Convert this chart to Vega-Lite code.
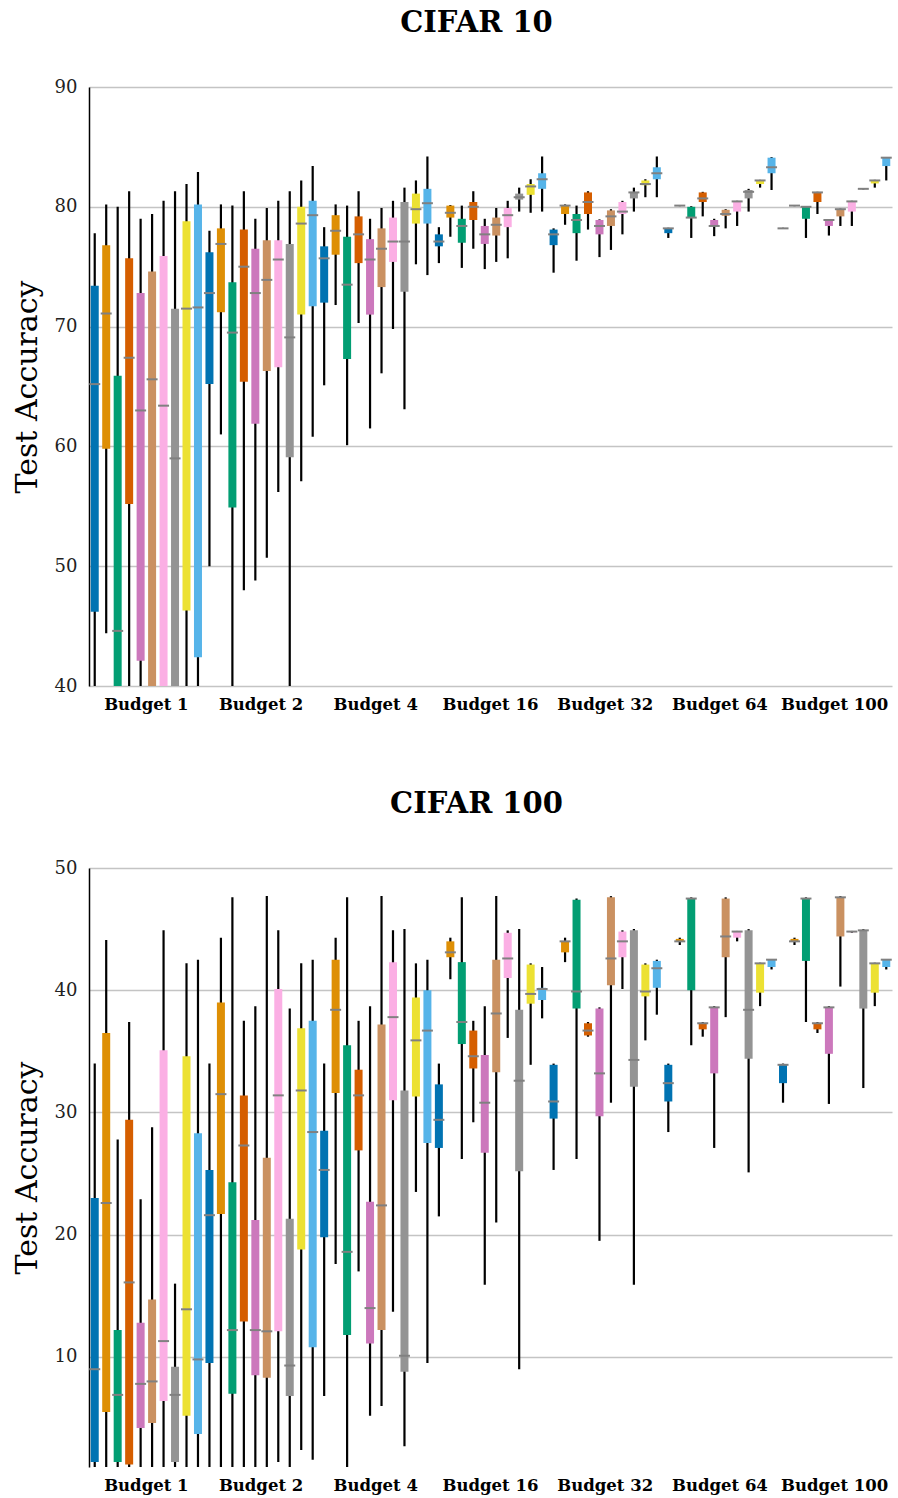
{
  "$schema": "https://vega.github.io/schema/vega-lite/v6.json",
  "padding": {"left": 12, "top": 9, "right": 5, "bottom": 5},
  "spacing": 77,
  "config": {
    "view": {"stroke": null},
    "font": "DejaVu Serif",
    "title": {"font": "DejaVu Serif", "fontSize": 29, "fontWeight": "bold", "color": "#000", "offset": 40, "dx": -14},
    "axisY": {"grid": true, "gridColor": "#c4c4c4", "gridWidth": 1.5, "domainColor": "#000", "domainWidth": 1.5, "ticks": false, "labelPadding": 12, "labelFontSize": 18, "labelFont": "DejaVu Serif", "labelColor": "#222", "titleFont": "DejaVu Serif", "titleFontSize": 30, "titleFontWeight": "normal", "titleColor": "#000", "titlePadding": 12},
    "axisX": {"grid": false, "domain": false, "ticks": false, "labelAngle": 0, "labelFont": "DejaVu Serif", "labelFontWeight": "bold", "labelFontSize": 16.5, "labelColor": "#000", "labelPadding": 10, "title": null}
  },
  "datasets": {
    "c10": [
      {"budget":"Budget 1","method":1,"low":30,"q1":46.2,"median":65.2,"q3":73.4,"high":77.8},
      {"budget":"Budget 1","method":2,"low":44.4,"q1":59.8,"median":71.1,"q3":76.8,"high":80.2},
      {"budget":"Budget 1","method":3,"low":30,"q1":36,"median":44.6,"q3":65.9,"high":80.0},
      {"budget":"Budget 1","method":4,"low":30,"q1":55.2,"median":67.4,"q3":75.7,"high":81.3},
      {"budget":"Budget 1","method":5,"low":30,"q1":42.1,"median":63.0,"q3":72.8,"high":79.0},
      {"budget":"Budget 1","method":6,"low":30,"q1":36,"median":65.6,"q3":74.6,"high":79.4},
      {"budget":"Budget 1","method":7,"low":30,"q1":36,"median":63.4,"q3":75.9,"high":80.5},
      {"budget":"Budget 1","method":8,"low":30,"q1":36,"median":59.0,"q3":71.5,"high":81.3},
      {"budget":"Budget 1","method":9,"low":30,"q1":46.3,"median":71.5,"q3":78.8,"high":81.9},
      {"budget":"Budget 1","method":10,"low":30,"q1":42.4,"median":71.6,"q3":80.2,"high":82.9},
      {"budget":"Budget 2","method":1,"low":50.0,"q1":65.2,"median":72.8,"q3":76.2,"high":78.0},
      {"budget":"Budget 2","method":2,"low":61.0,"q1":71.2,"median":76.9,"q3":78.2,"high":80.2},
      {"budget":"Budget 2","method":3,"low":30,"q1":54.9,"median":69.5,"q3":73.7,"high":80.1},
      {"budget":"Budget 2","method":4,"low":48.0,"q1":65.4,"median":75.0,"q3":78.1,"high":81.3},
      {"budget":"Budget 2","method":5,"low":48.8,"q1":61.9,"median":72.8,"q3":76.5,"high":79.0},
      {"budget":"Budget 2","method":6,"low":50.7,"q1":66.3,"median":73.9,"q3":77.2,"high":79.9},
      {"budget":"Budget 2","method":7,"low":56.2,"q1":66.6,"median":75.6,"q3":77.2,"high":80.5},
      {"budget":"Budget 2","method":8,"low":30,"q1":59.1,"median":69.1,"q3":76.9,"high":81.3},
      {"budget":"Budget 2","method":9,"low":57.1,"q1":71.0,"median":78.6,"q3":80.0,"high":82.2},
      {"budget":"Budget 2","method":10,"low":60.8,"q1":71.7,"median":79.3,"q3":80.5,"high":83.4},
      {"budget":"Budget 4","method":1,"low":65.1,"q1":72.0,"median":75.7,"q3":76.7,"high":78.3},
      {"budget":"Budget 4","method":2,"low":71.8,"q1":76.0,"median":78.0,"q3":79.3,"high":80.2},
      {"budget":"Budget 4","method":3,"low":60.1,"q1":67.3,"median":73.5,"q3":77.5,"high":80.1},
      {"budget":"Budget 4","method":4,"low":70.3,"q1":75.3,"median":77.7,"q3":79.2,"high":81.3},
      {"budget":"Budget 4","method":5,"low":61.5,"q1":71.0,"median":75.6,"q3":77.3,"high":79.0},
      {"budget":"Budget 4","method":6,"low":66.1,"q1":73.3,"median":76.5,"q3":78.2,"high":79.9},
      {"budget":"Budget 4","method":7,"low":69.8,"q1":75.4,"median":77.1,"q3":79.1,"high":80.5},
      {"budget":"Budget 4","method":8,"low":63.1,"q1":72.9,"median":77.1,"q3":80.4,"high":81.6},
      {"budget":"Budget 4","method":9,"low":75.2,"q1":78.6,"median":79.8,"q3":81.1,"high":82.2},
      {"budget":"Budget 4","method":10,"low":74.3,"q1":78.6,"median":80.3,"q3":81.5,"high":84.2},
      {"budget":"Budget 16","method":1,"low":75.3,"q1":76.7,"median":77.1,"q3":77.7,"high":78.3},
      {"budget":"Budget 16","method":2,"low":77.5,"q1":79.1,"median":79.5,"q3":80.1,"high":80.15},
      {"budget":"Budget 16","method":3,"low":74.9,"q1":77.0,"median":78.4,"q3":79.0,"high":80.1},
      {"budget":"Budget 16","method":4,"low":76.5,"q1":78.9,"median":80.0,"q3":80.4,"high":81.3},
      {"budget":"Budget 16","method":5,"low":74.8,"q1":76.9,"median":77.7,"q3":78.4,"high":79.0},
      {"budget":"Budget 16","method":6,"low":75.4,"q1":77.6,"median":78.5,"q3":79.1,"high":79.9},
      {"budget":"Budget 16","method":7,"low":75.7,"q1":78.3,"median":79.3,"q3":79.9,"high":80.5},
      {"budget":"Budget 16","method":8,"low":79.6,"q1":80.6,"median":80.8,"q3":81.1,"high":81.6},
      {"budget":"Budget 16","method":9,"low":79.5,"q1":81.0,"median":81.7,"q3":81.9,"high":82.3},
      {"budget":"Budget 16","method":10,"low":79.6,"q1":81.5,"median":82.3,"q3":82.8,"high":84.2},
      {"budget":"Budget 32","method":1,"low":74.5,"q1":76.8,"median":77.7,"q3":78.1,"high":78.2},
      {"budget":"Budget 32","method":2,"low":78.5,"q1":79.4,"median":80.1,"q3":80.1,"high":80.2},
      {"budget":"Budget 32","method":3,"low":75.5,"q1":77.8,"median":78.9,"q3":79.4,"high":80.1},
      {"budget":"Budget 32","method":4,"low":78.1,"q1":79.4,"median":80.4,"q3":81.2,"high":81.3},
      {"budget":"Budget 32","method":5,"low":75.8,"q1":77.7,"median":78.4,"q3":78.9,"high":78.95},
      {"budget":"Budget 32","method":6,"low":76.4,"q1":78.4,"median":79.2,"q3":79.7,"high":79.8},
      {"budget":"Budget 32","method":7,"low":77.7,"q1":79.4,"median":79.6,"q3":80.4,"high":80.5},
      {"budget":"Budget 32","method":8,"low":79.6,"q1":80.7,"median":81.2,"q3":81.2,"high":81.6},
      {"budget":"Budget 32","method":9,"low":80.8,"q1":81.8,"median":81.9,"q3":82.2,"high":82.3},
      {"budget":"Budget 32","method":10,"low":80.8,"q1":82.3,"median":82.8,"q3":83.3,"high":84.2},
      {"budget":"Budget 64","method":1,"low":77.4,"q1":77.8,"median":78.2,"q3":78.2,"high":78.25},
      {"budget":"Budget 64","method":2,"low":80.05,"q1":80.08,"median":80.1,"q3":80.12,"high":80.15},
      {"budget":"Budget 64","method":3,"low":77.4,"q1":79.1,"median":79.1,"q3":80.0,"high":80.05},
      {"budget":"Budget 64","method":4,"low":79.2,"q1":80.4,"median":80.7,"q3":81.2,"high":81.25},
      {"budget":"Budget 64","method":5,"low":77.55,"q1":78.4,"median":78.4,"q3":78.9,"high":79.0},
      {"budget":"Budget 64","method":6,"low":78.2,"q1":79.25,"median":79.4,"q3":79.75,"high":79.8},
      {"budget":"Budget 64","method":7,"low":78.4,"q1":79.6,"median":80.45,"q3":80.45,"high":80.5},
      {"budget":"Budget 64","method":8,"low":79.6,"q1":80.7,"median":81.25,"q3":81.4,"high":81.5},
      {"budget":"Budget 64","method":9,"low":81.6,"q1":81.9,"median":82.2,"q3":82.2,"high":82.25},
      {"budget":"Budget 64","method":10,"low":81.4,"q1":82.8,"median":83.3,"q3":84.1,"high":84.15},
      {"budget":"Budget 100","method":1,"low":78.15,"q1":78.18,"median":78.2,"q3":78.22,"high":78.25},
      {"budget":"Budget 100","method":2,"low":80.05,"q1":80.08,"median":80.1,"q3":80.12,"high":80.15},
      {"budget":"Budget 100","method":3,"low":77.4,"q1":79.0,"median":80.0,"q3":80.0,"high":80.05},
      {"budget":"Budget 100","method":4,"low":79.4,"q1":80.4,"median":81.2,"q3":81.2,"high":81.25},
      {"budget":"Budget 100","method":5,"low":77.6,"q1":78.4,"median":78.9,"q3":78.9,"high":78.95},
      {"budget":"Budget 100","method":6,"low":78.4,"q1":79.2,"median":79.8,"q3":79.8,"high":79.85},
      {"budget":"Budget 100","method":7,"low":78.4,"q1":79.6,"median":80.45,"q3":80.45,"high":80.5},
      {"budget":"Budget 100","method":8,"low":81.45,"q1":81.48,"median":81.5,"q3":81.52,"high":81.55},
      {"budget":"Budget 100","method":9,"low":81.6,"q1":81.95,"median":82.2,"q3":82.2,"high":82.25},
      {"budget":"Budget 100","method":10,"low":82.2,"q1":83.4,"median":84.1,"q3":84.1,"high":84.15}
    ],
    "c100": [
      {"budget":"Budget 1","method":1,"low":0.5,"q1":1.4,"median":9.0,"q3":23.0,"high":34.0},
      {"budget":"Budget 1","method":2,"low":0.5,"q1":5.5,"median":22.6,"q3":36.5,"high":44.1},
      {"budget":"Budget 1","method":3,"low":0.5,"q1":1.4,"median":6.9,"q3":12.2,"high":27.8},
      {"budget":"Budget 1","method":4,"low":0.5,"q1":1.2,"median":16.1,"q3":29.4,"high":37.4},
      {"budget":"Budget 1","method":5,"low":0.5,"q1":4.2,"median":7.8,"q3":12.8,"high":22.9},
      {"budget":"Budget 1","method":6,"low":0.5,"q1":4.6,"median":8.0,"q3":14.7,"high":28.8},
      {"budget":"Budget 1","method":7,"low":0.5,"q1":6.4,"median":11.3,"q3":35.1,"high":44.9},
      {"budget":"Budget 1","method":8,"low":0.5,"q1":1.4,"median":6.9,"q3":9.2,"high":16.0},
      {"budget":"Budget 1","method":9,"low":0.5,"q1":5.2,"median":13.9,"q3":34.6,"high":42.2},
      {"budget":"Budget 1","method":10,"low":0.5,"q1":3.7,"median":9.8,"q3":28.3,"high":42.5},
      {"budget":"Budget 2","method":1,"low":0.5,"q1":9.5,"median":21.6,"q3":25.3,"high":34.0},
      {"budget":"Budget 2","method":2,"low":0.5,"q1":21.7,"median":31.5,"q3":39.0,"high":44.3},
      {"budget":"Budget 2","method":3,"low":0.5,"q1":7.0,"median":12.2,"q3":24.3,"high":47.6},
      {"budget":"Budget 2","method":4,"low":0.5,"q1":12.9,"median":27.3,"q3":31.4,"high":37.5},
      {"budget":"Budget 2","method":5,"low":0.5,"q1":8.5,"median":12.2,"q3":21.2,"high":38.7},
      {"budget":"Budget 2","method":6,"low":0.5,"q1":8.3,"median":12.1,"q3":26.3,"high":47.7},
      {"budget":"Budget 2","method":7,"low":1.4,"q1":12.1,"median":31.4,"q3":40.1,"high":44.9},
      {"budget":"Budget 2","method":8,"low":0.5,"q1":6.8,"median":9.3,"q3":21.3,"high":38.5},
      {"budget":"Budget 2","method":9,"low":2.4,"q1":18.8,"median":31.8,"q3":36.9,"high":42.2},
      {"budget":"Budget 2","method":10,"low":1.6,"q1":10.8,"median":28.4,"q3":37.5,"high":42.5},
      {"budget":"Budget 4","method":1,"low":6.8,"q1":19.8,"median":25.3,"q3":28.5,"high":34.0},
      {"budget":"Budget 4","method":2,"low":17.6,"q1":31.6,"median":38.4,"q3":42.5,"high":44.3},
      {"budget":"Budget 4","method":3,"low":0.5,"q1":11.8,"median":18.6,"q3":35.5,"high":47.6},
      {"budget":"Budget 4","method":4,"low":17.0,"q1":26.9,"median":31.4,"q3":33.5,"high":37.5},
      {"budget":"Budget 4","method":5,"low":5.2,"q1":11.1,"median":14.0,"q3":22.7,"high":38.7},
      {"budget":"Budget 4","method":6,"low":6.0,"q1":12.2,"median":22.4,"q3":37.2,"high":47.7},
      {"budget":"Budget 4","method":7,"low":13.7,"q1":31.0,"median":37.8,"q3":42.3,"high":44.9},
      {"budget":"Budget 4","method":8,"low":2.7,"q1":8.8,"median":10.1,"q3":31.8,"high":45.0},
      {"budget":"Budget 4","method":9,"low":23.5,"q1":31.3,"median":35.9,"q3":39.4,"high":42.2},
      {"budget":"Budget 4","method":10,"low":9.5,"q1":27.5,"median":36.7,"q3":40.0,"high":42.5},
      {"budget":"Budget 16","method":1,"low":21.5,"q1":27.1,"median":29.4,"q3":32.3,"high":34.0},
      {"budget":"Budget 16","method":2,"low":40.9,"q1":42.7,"median":43.1,"q3":44.0,"high":44.3},
      {"budget":"Budget 16","method":3,"low":26.2,"q1":35.6,"median":37.4,"q3":42.3,"high":47.6},
      {"budget":"Budget 16","method":4,"low":29.2,"q1":33.6,"median":34.6,"q3":36.7,"high":37.5},
      {"budget":"Budget 16","method":5,"low":15.9,"q1":26.7,"median":30.8,"q3":34.7,"high":38.7},
      {"budget":"Budget 16","method":6,"low":21.0,"q1":33.3,"median":38.1,"q3":42.5,"high":47.7},
      {"budget":"Budget 16","method":7,"low":36.1,"q1":41.0,"median":42.6,"q3":44.7,"high":44.9},
      {"budget":"Budget 16","method":8,"low":9.0,"q1":25.2,"median":32.6,"q3":38.4,"high":45.0},
      {"budget":"Budget 16","method":9,"low":33.9,"q1":38.9,"median":39.7,"q3":42.1,"high":42.2},
      {"budget":"Budget 16","method":10,"low":37.7,"q1":39.2,"median":40.1,"q3":40.2,"high":41.9},
      {"budget":"Budget 32","method":1,"low":25.3,"q1":29.5,"median":30.9,"q3":33.9,"high":34.0},
      {"budget":"Budget 32","method":2,"low":42.3,"q1":43.1,"median":44.0,"q3":44.0,"high":44.3},
      {"budget":"Budget 32","method":3,"low":26.2,"q1":38.5,"median":39.9,"q3":47.4,"high":47.5},
      {"budget":"Budget 32","method":4,"low":36.2,"q1":36.3,"median":36.7,"q3":37.3,"high":37.4},
      {"budget":"Budget 32","method":5,"low":19.5,"q1":29.7,"median":33.2,"q3":38.5,"high":38.6},
      {"budget":"Budget 32","method":6,"low":30.8,"q1":40.4,"median":42.6,"q3":47.6,"high":47.7},
      {"budget":"Budget 32","method":7,"low":40.1,"q1":42.7,"median":44.0,"q3":44.8,"high":44.9},
      {"budget":"Budget 32","method":8,"low":15.9,"q1":32.1,"median":34.3,"q3":44.9,"high":45.0},
      {"budget":"Budget 32","method":9,"low":35.9,"q1":39.5,"median":39.9,"q3":42.1,"high":42.2},
      {"budget":"Budget 32","method":10,"low":38.0,"q1":40.2,"median":41.8,"q3":42.4,"high":42.5},
      {"budget":"Budget 64","method":1,"low":28.4,"q1":30.9,"median":32.4,"q3":33.9,"high":34.0},
      {"budget":"Budget 64","method":2,"low":43.7,"q1":44.0,"median":44.0,"q3":44.2,"high":44.3},
      {"budget":"Budget 64","method":3,"low":35.5,"q1":40.0,"median":47.5,"q3":47.5,"high":47.6},
      {"budget":"Budget 64","method":4,"low":36.2,"q1":36.8,"median":37.3,"q3":37.3,"high":37.4},
      {"budget":"Budget 64","method":5,"low":27.1,"q1":33.2,"median":38.6,"q3":38.6,"high":38.7},
      {"budget":"Budget 64","method":6,"low":37.8,"q1":42.7,"median":44.4,"q3":47.5,"high":47.6},
      {"budget":"Budget 64","method":7,"low":44.0,"q1":44.3,"median":44.8,"q3":44.8,"high":44.85},
      {"budget":"Budget 64","method":8,"low":25.1,"q1":34.4,"median":38.4,"q3":44.9,"high":45.0},
      {"budget":"Budget 64","method":9,"low":38.7,"q1":39.8,"median":42.2,"q3":42.2,"high":42.25},
      {"budget":"Budget 64","method":10,"low":41.7,"q1":41.9,"median":42.5,"q3":42.5,"high":42.55},
      {"budget":"Budget 100","method":1,"low":30.8,"q1":32.4,"median":33.9,"q3":33.9,"high":34.0},
      {"budget":"Budget 100","method":2,"low":43.7,"q1":44.0,"median":44.0,"q3":44.2,"high":44.3},
      {"budget":"Budget 100","method":3,"low":37.4,"q1":42.4,"median":47.5,"q3":47.5,"high":47.6},
      {"budget":"Budget 100","method":4,"low":36.5,"q1":36.8,"median":37.3,"q3":37.3,"high":37.4},
      {"budget":"Budget 100","method":5,"low":30.7,"q1":34.8,"median":38.6,"q3":38.6,"high":38.7},
      {"budget":"Budget 100","method":6,"low":40.3,"q1":44.4,"median":47.6,"q3":47.6,"high":47.7},
      {"budget":"Budget 100","method":7,"low":44.7,"q1":44.75,"median":44.8,"q3":44.8,"high":44.85},
      {"budget":"Budget 100","method":8,"low":32.0,"q1":38.5,"median":44.9,"q3":44.9,"high":45.0},
      {"budget":"Budget 100","method":9,"low":38.7,"q1":39.8,"median":42.2,"q3":42.2,"high":42.25},
      {"budget":"Budget 100","method":10,"low":41.7,"q1":41.9,"median":42.5,"q3":42.5,"high":42.55}
    ]
  },
  "vconcat": [
    {
      "title": "CIFAR 10",
      "data": {"name": "c10"},
      "width": 803,
      "height": 599,
      "encoding": {
        "x": {"field": "budget", "type": "nominal", "sort": ["Budget 1","Budget 2","Budget 4","Budget 16","Budget 32","Budget 64","Budget 100"], "scale": {"paddingInner": 0, "paddingOuter": 0}},
        "xOffset": {"field": "method", "type": "nominal", "scale": {"domain": [1,2,3,4,5,6,7,8,9,10], "paddingInner": 0, "paddingOuter": 0}},
        "color": {"field": "method", "type": "nominal", "legend": null, "scale": {"domain": [1,2,3,4,5,6,7,8,9,10], "range": ["#0173b2","#de8f05","#029e73","#d55e00","#cc78bc","#ca9161","#fbafe4","#949494","#ece133","#56b4e9"]}}
      },
      "layer": [
        {
          "mark": {"type": "rule", "color": "#000", "strokeWidth": 2.2, "clip": true},
          "encoding": {
            "y": {"field": "low", "type": "quantitative", "scale": {"domain": [40, 90], "nice": false, "zero": false}, "axis": {"title": "Test Accuracy", "values": [40,50,60,70,80,90]}},
            "y2": {"field": "high"},
            "color": {"value": "#000"}
          }
        },
        {
          "mark": {"type": "bar", "width": 8, "clip": true, "opacity": 1},
          "encoding": {
            "y": {"field": "q1", "type": "quantitative"},
            "y2": {"field": "q3"}
          }
        },
        {
          "mark": {"type": "tick", "color": "#808080", "size": 11, "thickness": 2, "clip": true, "opacity": 1},
          "encoding": {
            "y": {"field": "median", "type": "quantitative"},
            "color": {"value": "#808080"}
          }
        }
      ]
    },
    {
      "title": "CIFAR 100",
      "data": {"name": "c100"},
      "width": 803,
      "height": 599,
      "encoding": {
        "x": {"field": "budget", "type": "nominal", "sort": ["Budget 1","Budget 2","Budget 4","Budget 16","Budget 32","Budget 64","Budget 100"], "scale": {"paddingInner": 0, "paddingOuter": 0}},
        "xOffset": {"field": "method", "type": "nominal", "scale": {"domain": [1,2,3,4,5,6,7,8,9,10], "paddingInner": 0, "paddingOuter": 0}},
        "color": {"field": "method", "type": "nominal", "legend": null, "scale": {"domain": [1,2,3,4,5,6,7,8,9,10], "range": ["#0173b2","#de8f05","#029e73","#d55e00","#cc78bc","#ca9161","#fbafe4","#949494","#ece133","#56b4e9"]}}
      },
      "layer": [
        {
          "mark": {"type": "rule", "color": "#000", "strokeWidth": 2.2, "clip": true},
          "encoding": {
            "y": {"field": "low", "type": "quantitative", "scale": {"domain": [1, 50], "nice": false, "zero": false}, "axis": {"title": "Test Accuracy", "values": [10,20,30,40,50]}},
            "y2": {"field": "high"},
            "color": {"value": "#000"}
          }
        },
        {
          "mark": {"type": "bar", "width": 8, "clip": true, "opacity": 1},
          "encoding": {
            "y": {"field": "q1", "type": "quantitative"},
            "y2": {"field": "q3"}
          }
        },
        {
          "mark": {"type": "tick", "color": "#808080", "size": 11, "thickness": 2, "clip": true, "opacity": 1},
          "encoding": {
            "y": {"field": "median", "type": "quantitative"},
            "color": {"value": "#808080"}
          }
        }
      ]
    }
  ]
}
